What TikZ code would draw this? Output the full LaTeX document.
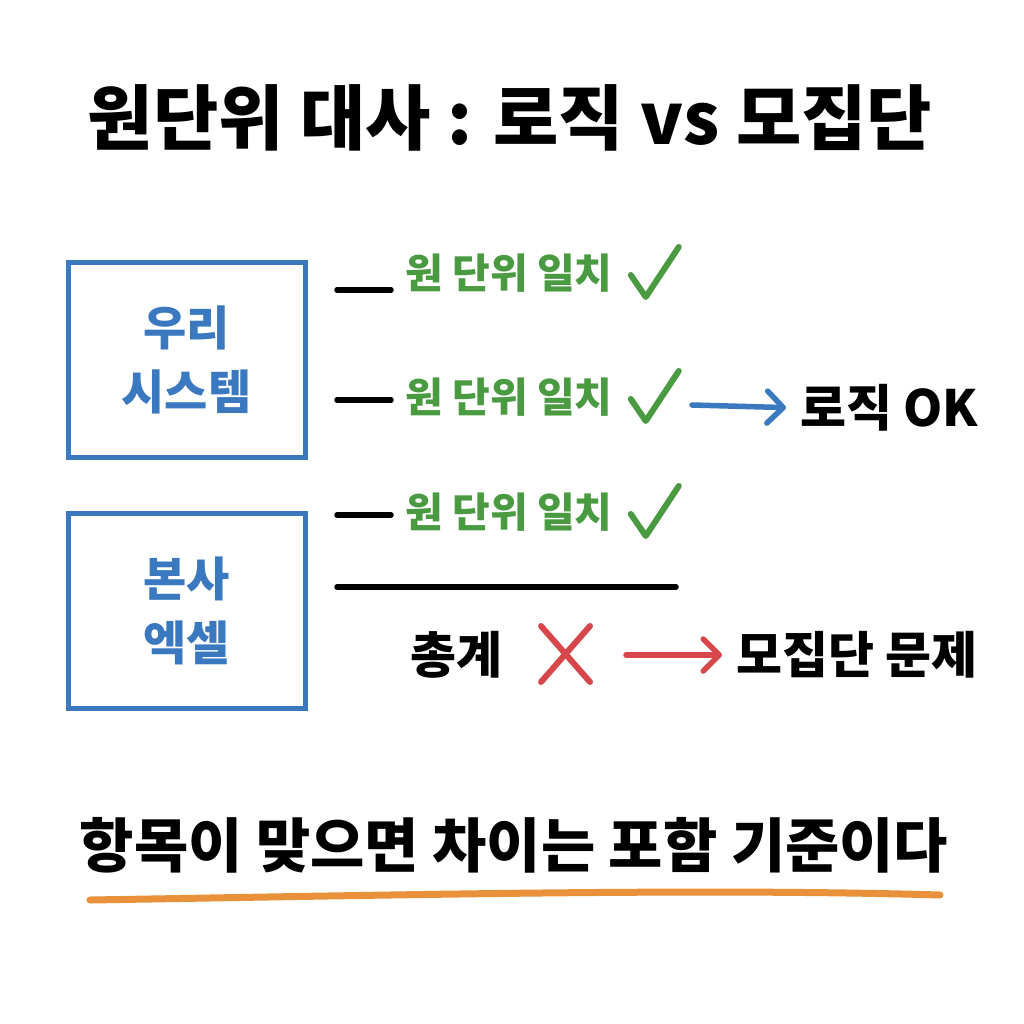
\documentclass[tikz,border=0pt]{standalone}
\usepackage{fontspec}
\setmainfont{Noto Sans CJK KR}
\usepackage{tikz}
\usetikzlibrary{positioning}
\usetikzlibrary{arrows.meta}
\definecolor{BoxBlue}{HTML}{3A78C0}
\definecolor{OkGreen}{HTML}{4A9A42}
\definecolor{BadRed}{HTML}{D6464A}
\definecolor{LineOrange}{HTML}{E8913A}

\begin{document}
\begin{tikzpicture}[x=1pt, y=-1pt,
    sysbox/.style={draw=BoxBlue, line width=5pt, minimum width=237pt, minimum height=195pt,
      align=center, text=BoxBlue, font=\bfseries\fontsize{47}{64}\selectfont},
    okline/.style={text=OkGreen, anchor=west, inner sep=0pt, font=\bfseries\fontsize{41}{44}\selectfont},
    tick/.style={draw=OkGreen, line width=6pt, line cap=round, line join=round},
    dashline/.style={line width=5.5pt, line cap=round},
    blacklabel/.style={anchor=west, inner sep=0pt, font=\bfseries\fontsize{50}{54}\selectfont},
    hand/.style={line width=5.5pt, line cap=round, shorten >=14pt,
      -{Straight Barb[length=16pt, width=32pt, round]}}]
\useasboundingbox (0,0) rectangle (1024,1024);

  % title
\node[font=\bfseries\fontsize{71}{75}\selectfont] (title) at (510,118) {원단위 대사 : 로직 vs 모집단};

  % boxes
\node[sysbox] (ours) at (186.5,359.5) {우리\\시스템};
\node[sysbox] (excel) at (186.5,611) {본사\\엑셀};

  % matching rows
\foreach \n/\y/\d in {1/273/290, 2/397/400, 3/512/515} {
    \draw[dashline] (337,\d) -- (391,\d);
    \node[okline] (match\n) at (405,\y) {원 단위 일치};
    \draw[tick] ([xshift=18pt, yshift=-2pt]match\n.east) -- ++(15,22) -- ++(33,-50);
}
\coordinate (okstart) at (692,405);
\node[blacklabel] (logic) at (800,408) {로직 OK};
\draw[hand, draw=BoxBlue] (okstart) -- (logic.west);

  % totals
\draw[dashline] (337,587) -- (676,587);
\node[blacklabel] (total) at (410,655) {총계};
\begin{scope}[draw=BadRed, line width=6pt, line cap=round]
    \draw (541,626) -- (590,682);
    \draw (590,626) -- (541,682);
\end{scope}
\coordinate (badstart) at (626,655);
\node[blacklabel] (pop) at (736,655) {모집단 문제};
\draw[hand, draw=BadRed] (badstart) -- (pop.west);

  % conclusion
\node[font=\bfseries\fontsize{59}{63}\selectfont] (rule) at (514,845) {항목이 맞으면 차이는 포함 기준이다};
\draw[LineOrange, line width=7pt, line cap=round] (90,900) .. controls (400,895) and (700,888) .. (940,895);
\end{tikzpicture}
\end{document}
